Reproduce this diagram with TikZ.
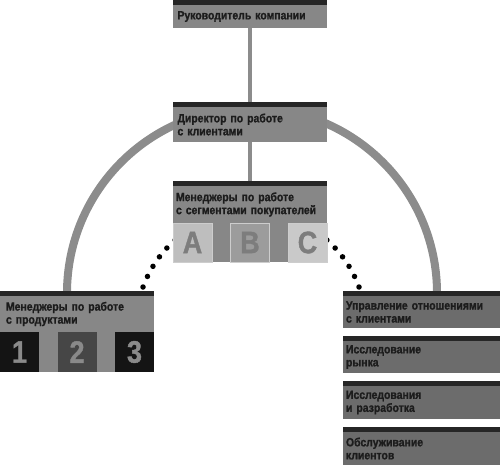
\documentclass[tikz,border=0pt]{standalone}
\usepackage{fontspec}
\setmainfont{Liberation Sans}[FakeStretch=0.87, BoldFeatures={FakeBold=1.2}]
\usetikzlibrary{
    positioning,   % Relative positioning
    backgrounds,   % Background layers
    fit            % Fitting nodes
}
\definecolor{BoxGray}{RGB}{135,135,135}
\definecolor{SideGray}{RGB}{108,108,108}
\definecolor{BarDark}{RGB}{38,38,38}
\definecolor{TextDark}{RGB}{28,28,28}
\definecolor{LinkGray}{RGB}{140,140,140}
\definecolor{TileA}{RGB}{190,190,190}
\definecolor{TileB}{RGB}{156,156,156}
\definecolor{TileC}{RGB}{201,201,201}
\definecolor{TileEdge}{RGB}{205,205,205}
\definecolor{TileLetter}{RGB}{125,125,125}
\definecolor{TileBlack}{RGB}{20,20,20}
\definecolor{TileDark}{RGB}{70,70,70}
\definecolor{TileDigit}{RGB}{138,138,138}
\tikzset{unit box/.style={
    rectangle,
    fill=BoxGray,
    anchor=north west,
    outer sep=0pt,
    inner xsep=4.5pt,
    inner ysep=0pt,
    minimum width=154pt,
    text width=145pt,
    align=left,
    text=TextDark,
    font=\bfseries\fontsize{12}{13}\selectfont,
    append after command={\pgfextra{\let\barnode=\tikzlastnode
        \fill[BarDark] (\barnode.north west) rectangle ([yshift=5pt]\barnode.north east);}}
}}
\tikzset{side box/.style={
    unit box,
    fill=SideGray,
    inner xsep=3pt,
    minimum width=157pt,
    text width=151pt
}}
\tikzset{tile/.style={
    rectangle,
    minimum width=39pt,
    minimum height=39pt,
    inner sep=0pt,
    outer sep=0pt,
    font=\bfseries\fontsize{31}{31}\selectfont
}}
\tikzset{tile light/.style={
    tile,
    draw=TileEdge,
    line width=0.6pt,
    text=TileLetter
}}
\tikzset{tile dark/.style={
    tile,
    minimum height=40pt,
    text=TileDigit
}}
\tikzset{stem/.style={draw=LinkGray, line width=4pt}}
\tikzset{trunk/.style={draw=LinkGray, line width=8pt}}
\tikzset{dot trail/.style={
    draw=black,
    line width=5.5pt,
    line cap=round,
    dash pattern=on 0pt off 11.5pt
}}

\begin{document}
\begin{tikzpicture}[x=1pt, y=-1pt]
    \useasboundingbox (0,0) rectangle (500,465);

    \node[unit box, minimum height=23pt] (ceo) at (173,5) {Руководитель компании};
    \node[unit box, minimum height=35pt] (director) at (173,107) {Директор по работе\\с клиентами};

    \node[unit box, minimum height=37pt, inner xsep=3pt, text width=148pt] (segments) at (173,186) {Менеджеры по работе\\с сегментами покупателей};
    \node[tile light, fill=TileA, below right=0pt of segments.south west] (segA) {A};
    \node[tile light, fill=TileB, right=18.5pt of segA] (segB) {B};
    \node[tile light, fill=TileC, right=18.5pt of segB] (segC) {C};

    \node[unit box, minimum height=36pt, inner xsep=6pt, text width=142pt] (products) at (0,296) {Менеджеры по работе\\с продуктами};
    \node[tile dark, fill=TileBlack, below right=0pt of products.south west] (prod1) {1};
    \node[tile dark, fill=TileDark, right=18.5pt of prod1] (prod2) {2};
    \node[tile dark, fill=TileBlack, right=18.5pt of prod2] (prod3) {3};

    \node[side box, minimum height=32pt] (crm) at (343,296) {Управление отношениями\\с клиентами};
    \node[side box, minimum height=32pt, below=13pt of crm] (market) {Исследование\\рынка};
    \node[side box, minimum height=33pt, below=13pt of market] (rnd) {Исследования\\и разработка};
    \node[side box, minimum height=33pt, below=13pt of rnd] (service) {Обслуживание\\клиентов};

    \coordinate (arcL) at (67,293);
    \coordinate (dotL) at (143,287);
    \coordinate (dotR) at (359,287);

    \begin{scope}[on background layer]
        \draw[trunk] (arcL) arc[start angle=180, end angle=360, radius=185];
        \draw[dot trail] (dotL) arc[start angle=200, end angle=250, radius=115];
        \draw[dot trail] (dotR) arc[start angle=340, end angle=290, radius=115];
        \draw[stem] (ceo) -- (director);
        \draw[stem] (director) -- (segments);
        \node[fit=(segments)(segA)(segC), fill=BoxGray, inner sep=0pt] (segframe) {};
        \node[fit=(products)(prod1)(prod3), fill=BoxGray, inner sep=0pt] (prodframe) {};
    \end{scope}
\end{tikzpicture}
\end{document}
